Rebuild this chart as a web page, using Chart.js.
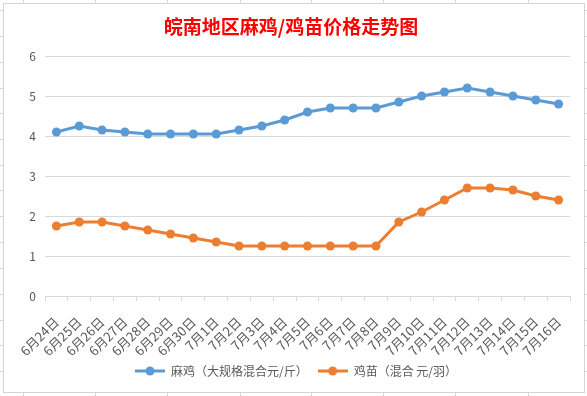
<!DOCTYPE html>
<html>
<head>
<meta charset="utf-8">
<script src="https://cdn.jsdelivr.net/npm/chart.js@4"></script>
<style>
  html, body { margin: 0; padding: 0; background: #fff; width: 587px; height: 396px; overflow: hidden; position: relative; }
  .sheet { position: absolute; background: #d9d9d9; }
  #box { position: absolute; left: 3px; top: 3px; width: 582px; height: 390px; box-sizing: border-box; border: 1px solid #d4d4d4; background: #fff; }
  #c { position: absolute; left: 0; top: 0; }
</style>
</head>
<body>
<div id="box"><canvas id="c" width="580" height="388"></canvas></div>
<script>
// ---- data ----
const categories = ["6月24日","6月25日","6月26日","6月27日","6月28日","6月29日","6月30日","7月1日","7月2日","7月3日","7月4日","7月5日","7月6日","7月7日","7月8日","7月9日","7月10日","7月11日","7月12日","7月13日","7月14日","7月15日","7月16日"];
const maji = [4.1,4.25,4.15,4.1,4.05,4.05,4.05,4.05,4.15,4.25,4.4,4.6,4.7,4.7,4.7,4.85,5.0,5.1,5.2,5.1,5.0,4.9,4.8];
const jimiao = [1.75,1.85,1.85,1.75,1.65,1.55,1.45,1.35,1.25,1.25,1.25,1.25,1.25,1.25,1.25,1.85,2.1,2.4,2.7,2.7,2.65,2.5,2.4];
const seriesNames = ["麻鸡（大规格混合元/斤）","鸡苗（混合 元/羽）"];
const titleText = "皖南地区麻鸡/鸡苗价格走势图";
const yTicks = [0,1,2,3,4,5,6];

// ---- spreadsheet gridlines behind the chart ----
const colXs = [23,95,167,240,311,383,455,528];
const rowYs = [10,36,62,88,113,139,165,190,216,242,268,294,320,345,371];
colXs.forEach(x => { const d = document.createElement('div'); d.className='sheet'; d.style.cssText=`left:${x}px;top:0;width:1px;height:396px`; document.body.insertBefore(d, document.body.firstChild); });
rowYs.forEach(y => { const d = document.createElement('div'); d.className='sheet'; d.style.cssText=`left:0;top:${y}px;width:587px;height:1px`; document.body.insertBefore(d, document.body.firstChild); });

const BLUE = '#5B9BD5', ORANGE = '#ED7D31';
function marker(color) {
  const c = document.createElement('canvas');
  c.width = 30; c.height = 10;
  const g = c.getContext('2d');
  g.strokeStyle = color; g.lineWidth = 3;
  g.beginPath(); g.moveTo(0,5); g.lineTo(30,5); g.stroke();
  g.fillStyle = color; g.beginPath(); g.arc(15,5,4.5,0,Math.PI*2); g.fill();
  return c;
}
const markers = [marker(BLUE), marker(ORANGE)];
const FONT = '"Noto Sans CJK SC", "Liberation Sans", sans-serif';

const legendShift = {
  id: 'legendShift',
  afterLayout(chart) {
    if (chart.legend) { chart.legend.left += 5; chart.legend.right += 5; }
  }
};

new Chart(document.getElementById('c'), {
  type: 'line',
  data: {
    labels: categories,
    datasets: [
      { label: seriesNames[0], data: maji, borderColor: BLUE, backgroundColor: BLUE, borderWidth: 3, pointRadius: 4.5, pointBorderWidth: 0, pointBackgroundColor: BLUE, tension: 0 },
      { label: seriesNames[1], data: jimiao, borderColor: ORANGE, backgroundColor: ORANGE, borderWidth: 3, pointRadius: 4.5, pointBorderWidth: 0, pointBackgroundColor: ORANGE, tension: 0 }
    ]
  },
  plugins: [legendShift],
  options: {
    responsive: false,
    animation: false,
    devicePixelRatio: 1,
    layout: { padding: { left: 8, right: 14, top: 0, bottom: 5 } },
    plugins: {
      title: {
        display: true, text: titleText, color: '#FF0000',
        font: { family: FONT, size: 19, weight: 'bold' },
        padding: { top: 11, bottom: 18.2 }
      },
      legend: {
        position: 'bottom',
        labels: {
          color: '#595959', font: { family: FONT, size: 12 },
          usePointStyle: true, pointStyleWidth: 30, padding: 10,
          generateLabels(chart) {
            const items = Chart.defaults.plugins.legend.labels.generateLabels(chart);
            items.forEach((it, i) => { it.pointStyle = markers[i]; });
            return items;
          }
        }
      },
      tooltip: { enabled: false }
    },
    scales: {
      x: {
        offset: true,
        grid: { offset: true, drawOnChartArea: false, drawTicks: true, tickLength: 5, color: '#d9d9d9' },
        border: { color: '#d9d9d9' },
        ticks: { autoSkip: false, minRotation: 45, maxRotation: 45, color: '#595959', font: { family: FONT, size: 13 }, padding: 13 },
        afterFit(s) { s.height = 59; }
      },
      y: {
        min: 0, max: 6,
        afterBuildTicks(s) { s.ticks = yTicks.map(v => ({ value: v })); },
        grid: { color: '#d9d9d9', drawTicks: false },
        border: { display: false },
        ticks: { color: '#595959', font: { family: FONT, size: 12 }, padding: 9 },
        afterFit(s) { s.width = 33; }
      }
    }
  }
});
</script>
</body>
</html>
